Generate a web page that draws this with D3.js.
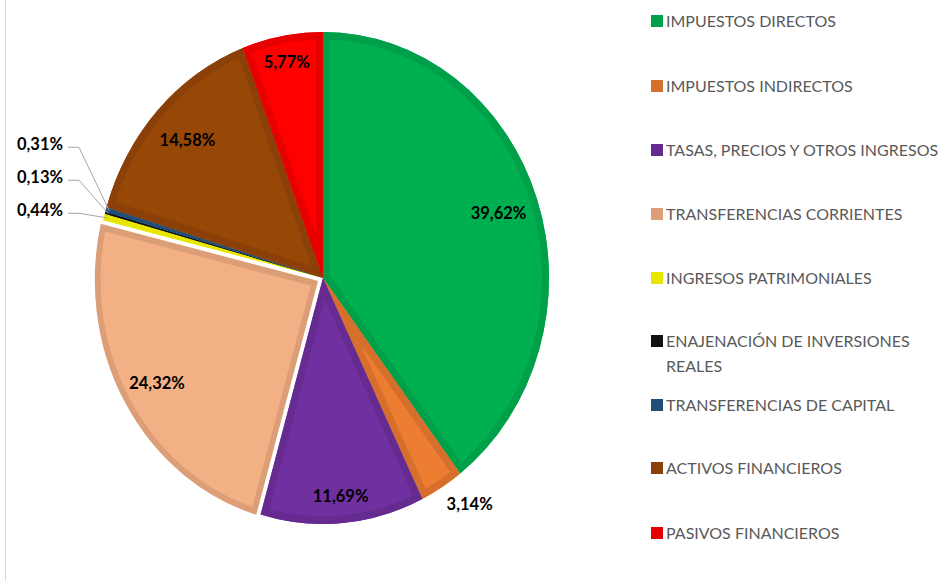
<!DOCTYPE html>
<html>
<head>
<meta charset="utf-8">
<script src="https://cdn.jsdelivr.net/npm/d3@7"></script>
<style>
  html, body { margin: 0; padding: 0; background: #fff; }
  svg { display: block; font-family: Lato, 'Open Sans', sans-serif; }
</style>
</head>
<body>
<div id="chart"></div>
<script>
// Pie of income categories, Excel-style inner borders, one exploded slice.

const categories = [
  'IMPUESTOS DIRECTOS',
  'IMPUESTOS INDIRECTOS',
  'TASAS, PRECIOS Y OTROS INGRESOS',
  'TRANSFERENCIAS CORRIENTES',
  'INGRESOS PATRIMONIALES',
  'ENAJENACIÓN DE INVERSIONES REALES',
  'TRANSFERENCIAS DE CAPITAL',
  'ACTIVOS FINANCIEROS',
  'PASIVOS FINANCIEROS',
];
const values = [39.62, 3.14, 11.69, 24.32, 0.44, 0.13, 0.31, 14.58, 5.77];
const fills   = ['#00B050', '#ED7D31', '#7030A0', '#F2B084', '#FFFF00', '#111111', '#255E91', '#974706', '#FF0000'];
const borders = ['#00A04A', '#D66F2C', '#652B90', '#DB9E76', '#E6E600', '#111111', '#1F4E79', '#8A4008', '#E60000'];
const legendLines = [
  ['IMPUESTOS DIRECTOS'], ['IMPUESTOS INDIRECTOS'], ['TASAS, PRECIOS Y OTROS INGRESOS'],
  ['TRANSFERENCIAS CORRIENTES'], ['INGRESOS PATRIMONIALES'],
  ['ENAJENACIÓN DE INVERSIONES', 'REALES'], ['TRANSFERENCIAS DE CAPITAL'],
  ['ACTIVOS FINANCIEROS'], ['PASIVOS FINANCIEROS'],
];
const exploded = 3;             // TRANSFERENCIAS CORRIENTES
const outside = [1];            // label just outside the rim
const smallSlices = [4, 5, 6];  // labels pulled out with leader lines (bottom to top)

const W = 944, H = 581;
const cx = 323, cy = 278, rx = 226, ry = 246;
const EXPLODE = 4;
const fmt = v => v.toFixed(2).replace('.', ',') + '%';

const svg = d3.select('#chart').append('svg')
  .attr('width', W).attr('height', H);

// faint frame line on the left
svg.append('line')
  .attr('x1', 5.5).attr('x2', 5.5).attr('y1', 0).attr('y2', H)
  .attr('stroke', '#D9D9D9').attr('stroke-width', 1);

const pie = d3.pie().sort(null).value(d => d);
const arcs = pie(values);
const arc = d3.arc().innerRadius(0).outerRadius(rx);
const midOf = d => (d.startAngle + d.endAngle) / 2;

// point on the ellipse for an angle (0 = top, clockwise)
const pt = (a, f) => [cx + Math.sin(a) * rx * f, cy - Math.cos(a) * ry * f];

const defs = svg.append('defs');
const pieG = svg.append('g')
  .attr('transform', `translate(${cx},${cy}) scale(1,${ry / rx})`);

arcs.forEach((d, i) => {
  const mid = midOf(d);
  const off = i === exploded ? EXPLODE : 0;
  const g = pieG.append('g')
    .attr('transform', `translate(${Math.sin(mid) * off},${-Math.cos(mid) * off * rx / ry})`);
  defs.append('clipPath').attr('id', 'clip' + i)
    .append('path').attr('d', arc(d));
  g.append('path').attr('d', arc(d)).attr('fill', fills[i]);
  // inner border: double-width stroke clipped to the slice
  g.append('path').attr('d', arc(d))
    .attr('fill', 'none').attr('stroke', borders[i]).attr('stroke-width', 14)
    .attr('clip-path', `url(#clip${i})`);
});

// white outline on the exploded slice, drawn last so it sits on top
{
  const d = arcs[exploded];
  const mid = midOf(d);
  pieG.append('path').attr('d', arc(d))
    .attr('transform', `translate(${Math.sin(mid) * EXPLODE},${-Math.cos(mid) * EXPLODE * rx / ry})`)
    .attr('fill', 'none').attr('stroke', '#fff').attr('stroke-width', 2.5);
}

// data labels inside (or just outside) the slices
const labelF = [0.82, 1.04, 0.89, 0.85, 0, 0, 0, 0.82, 0.89];
arcs.forEach((d, i) => {
  if (smallSlices.includes(i)) return;
  const out = outside.includes(i);
  const [x, y] = pt(midOf(d), labelF[i]);
  svg.append('text')
    .attr('x', x).attr('y', y).attr('dy', out ? '0.9em' : '0.35em')
    .attr('text-anchor', out ? 'start' : 'middle')
    .attr('font-size', 16.5).attr('font-weight', 700).attr('fill', '#000')
    .text(fmt(values[i]));
});

// tiny slices: stacked labels on the left with leader lines
const baseY = pt(arcs[4].startAngle, 1)[1] - 10;
smallSlices.forEach((i, k) => {
  const [ex, ey] = pt(midOf(arcs[i]), 0.985);
  const ly = baseY - k * 33;
  const lx = 63;
  svg.append('polyline')
    .attr('points', [[lx + 5, ly + 3], [lx + 16, ly + 3], [ex, ey]].map(p => p.join(',')).join(' '))
    .attr('fill', 'none').attr('stroke', '#A6A6A6').attr('stroke-width', 1);
  svg.append('text')
    .attr('x', lx).attr('y', ly).attr('dy', '0.35em')
    .attr('text-anchor', 'end')
    .attr('font-size', 16.5).attr('font-weight', 700).attr('fill', '#000')
    .text(fmt(values[i]));
});

// legend
const legY = [21, 86, 150, 214, 278, 341, 405, 468, 533];
categories.forEach((c, i) => {
  const g = svg.append('g').attr('transform', `translate(651,${legY[i]})`);
  g.append('rect').attr('x', 0).attr('y', -6).attr('width', 12).attr('height', 12)
    .attr('fill', borders[i]);
  legendLines[i].forEach((ln, j) => {
    g.append('text')
      .attr('x', 15).attr('y', j * 25).attr('dy', '0.36em')
      .attr('font-size', 16).attr('fill', '#595959')
      .text(ln);
  });
});
</script>
</body>
</html>
